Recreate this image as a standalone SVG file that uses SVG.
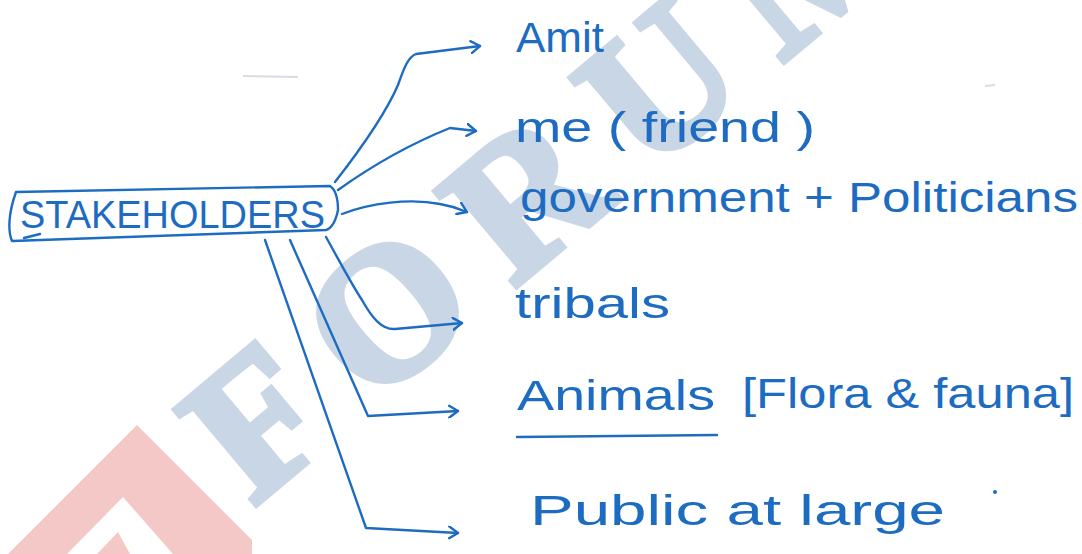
<svg xmlns="http://www.w3.org/2000/svg" width="1082" height="554" viewBox="0 0 1082 554">
  <defs>
    <marker id="arr" viewBox="0 0 12 14" refX="10" refY="7" markerWidth="12" markerHeight="14" markerUnits="userSpaceOnUse" orient="auto">
      <path d="M1,1 L10,7 L1,13" fill="none" stroke="#1d6cc2" stroke-width="2.4" stroke-linecap="round" stroke-linejoin="round"/>
    </marker>
    <style>
      .ink { fill: none; stroke: #1d6cc2; stroke-width: 2.4; stroke-linecap: round; stroke-linejoin: round; }
      .lbl { font-family: "Liberation Sans", "DejaVu Sans", sans-serif; fill: #1d6cc2; }
      .wm { font-family: "Liberation Serif", "DejaVu Serif", serif; font-weight: bold; fill: #c9d6e6; stroke: #c9d6e6; stroke-width: 7; stroke-linejoin: miter; }
    </style>
  </defs>
  <rect width="1082" height="554" fill="#ffffff"/>

  <!-- watermark -->
  <g id="watermark">
    <path d="M8,554 L137,425 L252,540 L252,554 L173,554 L123,497 L67,554 Z" fill="#f5c8c8"/>
    <path d="M97,554 L118,532 L130,554 Z" fill="#f5c8c8"/>
    <text class="wm" font-size="190" letter-spacing="38" transform="translate(253,507) rotate(-40)">FORUM</text>
    <line x1="243" y1="76" x2="298" y2="77" stroke="#d8dde3" stroke-width="2"/>
    <line x1="985" y1="86" x2="995" y2="85" stroke="#d8dde3" stroke-width="2"/>
  </g>

  <!-- connectors -->
  <g id="connectors">
    <path class="ink" d="M335,182 C360,150 385,115 398,85 C404,68 408,57 416,54 L480,46" marker-end="url(#arr)"/>
    <path class="ink" d="M338,190 C380,160 420,140 450,128 L476,131" marker-end="url(#arr)"/>
    <path class="ink" d="M342,214 C370,203 410,198 440,204 C452,206 460,209 467,212" marker-end="url(#arr)"/>
    <path class="ink" d="M326,237 C340,262 352,285 362,300 C372,318 382,330 395,329 L462,323" marker-end="url(#arr)"/>
    <path class="ink" d="M290,240 L368,416 L458,411" marker-end="url(#arr)"/>
    <path class="ink" d="M265,240 L366,528 L458,533" marker-end="url(#arr)"/>
  </g>

  <!-- central node -->
  <g id="stakeholders">
    <path class="ink" d="M16,192 L330,186 C336,190 338,200 338,210 C336,220 332,228 326,230 L12,241 C8,232 8,214 16,192 Z"/>
    <path class="ink" d="M24,238 L40,234"/>
    <text class="lbl" x="20" y="228" font-size="38" textLength="305" lengthAdjust="spacingAndGlyphs">STAKEHOLDERS</text>
  </g>

  <g id="amit">
    <text class="lbl" x="516" y="52" font-size="42" textLength="88" lengthAdjust="spacingAndGlyphs">Amit</text>
  </g>
  <g id="me-friend">
    <text class="lbl" x="515" y="142" font-size="42" textLength="300" lengthAdjust="spacingAndGlyphs">me ( friend )</text>
  </g>
  <g id="government">
    <text class="lbl" x="520" y="212" font-size="42" textLength="558" lengthAdjust="spacingAndGlyphs">government + Politicians</text>
  </g>
  <g id="tribals">
    <text class="lbl" x="515" y="318" font-size="42" textLength="155" lengthAdjust="spacingAndGlyphs">tribals</text>
  </g>
  <g id="animals">
    <text class="lbl" x="517" y="410" font-size="42" textLength="198" lengthAdjust="spacingAndGlyphs">Animals</text>
    <path class="ink" d="M517,437 L717,435"/>
    <text class="lbl" x="742" y="408" font-size="42" textLength="332" lengthAdjust="spacingAndGlyphs">[Flora &amp; fauna]</text>
  </g>
  <g id="public">
    <text class="lbl" x="530" y="525" font-size="42" textLength="415" lengthAdjust="spacingAndGlyphs">Public at large</text>
    <circle cx="995" cy="492" r="2" fill="#1d6cc2"/>
  </g>
</svg>
